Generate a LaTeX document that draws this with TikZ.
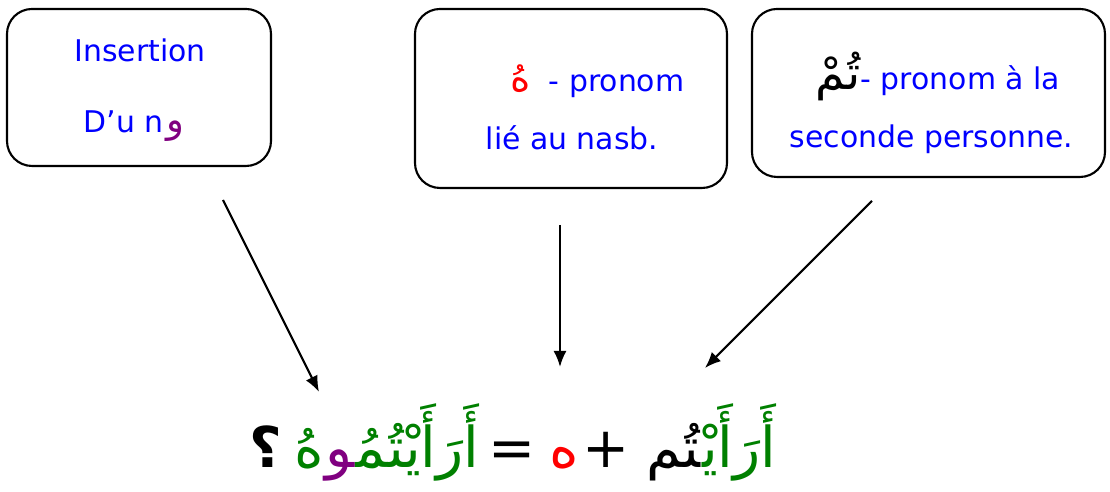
\documentclass[tikz,border=0pt]{standalone}
\usepackage{fontspec}
\setmainfont{DejaVu Sans}
\newfontfamily\arabicfont[Script=Arabic]{DejaVu Sans}
\TeXXeTstate=1
\usepackage{tikz}
\usetikzlibrary{arrows.meta}
\definecolor{myblue}{RGB}{0,0,255}
\definecolor{mygreen}{RGB}{0,128,0}
\definecolor{myred}{RGB}{255,0,0}
\definecolor{mypurple}{RGB}{128,0,128}
\newcommand{\ar}[1]{{\arabicfont\beginR #1\endR}}
\tikzset{
  bubble/.style={draw,rounded corners=0.25cm,line width=0.6pt,inner sep=0pt},
  frtext/.style={myblue,anchor=base,inner sep=0pt,font=\fontsize{8.5}{10}\selectfont},
  eqpart/.style={anchor=base east,inner sep=0pt,font=\arabicfont\fontsize{16}{18}\selectfont},
  link/.style={-{Latex[length=0.16cm,width=0.13cm]},line width=0.6pt},
}
\begin{document}
\begin{tikzpicture}
  \useasboundingbox (0cm,0cm) rectangle (11.10cm,4.92cm);
  % the three boxes
  \node[bubble,minimum width=2.64cm,minimum height=1.57cm] (insertbox) at (1.39cm,4.045cm) {};
  \node[bubble,minimum width=3.12cm,minimum height=1.79cm] (nasbbox) at (5.71cm,3.935cm) {};
  \node[bubble,minimum width=3.53cm,minimum height=1.68cm] (tumbox) at (9.285cm,3.99cm) {};
  % their texts
  \node[frtext] (insertA) at (1.40cm,4.30cm) {Insertion};
  \node[frtext] (insertB) at (1.34cm,3.59cm) {D’u n\hspace{0.03cm}{\color{mypurple}\fontsize{10.5}{12}\selectfont\ar{و}}};
  \node[frtext] (nasbA) at (5.975cm,4.00cm) {{\color{myred}\fontsize{11}{12}\selectfont\ar{هُ}}\hspace{0.18cm}- pronom};
  \node[frtext] (nasbB) at (5.72cm,3.42cm) {lié au nasb.};
  \node[frtext] (tumA) at (9.38cm,4.02cm) {{\color{black}\fontsize{13.5}{14}\selectfont\ar{تُمْ}}- pronom à la};
  \node[frtext] (tumB) at (9.315cm,3.44cm) {seconde personne.};
  % arrows
  \coordinate (fromA) at (2.23cm,2.92cm);
  \coordinate (toA) at (3.19cm,1.00cm);
  \coordinate (fromB) at (5.60cm,2.67cm);
  \coordinate (toB) at (5.60cm,1.25cm);
  \coordinate (fromC) at (8.72cm,2.91cm);
  \coordinate (toC) at (7.05cm,1.24cm);
  \draw[link] (fromA) -- (toA);
  \draw[link] (fromB) -- (toB);
  \draw[link] (fromC) -- (toC);
  % the equation, right to left
  \node[eqpart,mygreen] (wordA) at (7.77cm,0.24cm) {\ar{أَرَأَيْ^^^^200d}};
  \node[eqpart] (wordB) at (wordA.base west) {\ar{^^^^200dتُم}};
  \node[eqpart] (plus) at (6.30cm,0.24cm) {+};
  \node[eqpart,myred] (heh) at (5.80cm,0.24cm) {\ar{ه}};
  \node[eqpart] (equal) at (5.36cm,0.24cm) {=};
  \node[eqpart,mygreen] (wordC) at (4.80cm,0.24cm) {\ar{أَرَأَيْتُمُ^^^^200d}};
  \node[eqpart,mypurple] (waw) at (wordC.base west) {\ar{^^^^200dو}};
  \node[eqpart,mygreen] (wordD) at (waw.base west) {\ar{هُ}};
  \node[eqpart] (question) at (2.83cm,0.24cm) {\bfseries\ar{؟}};
\end{tikzpicture}
\end{document}
